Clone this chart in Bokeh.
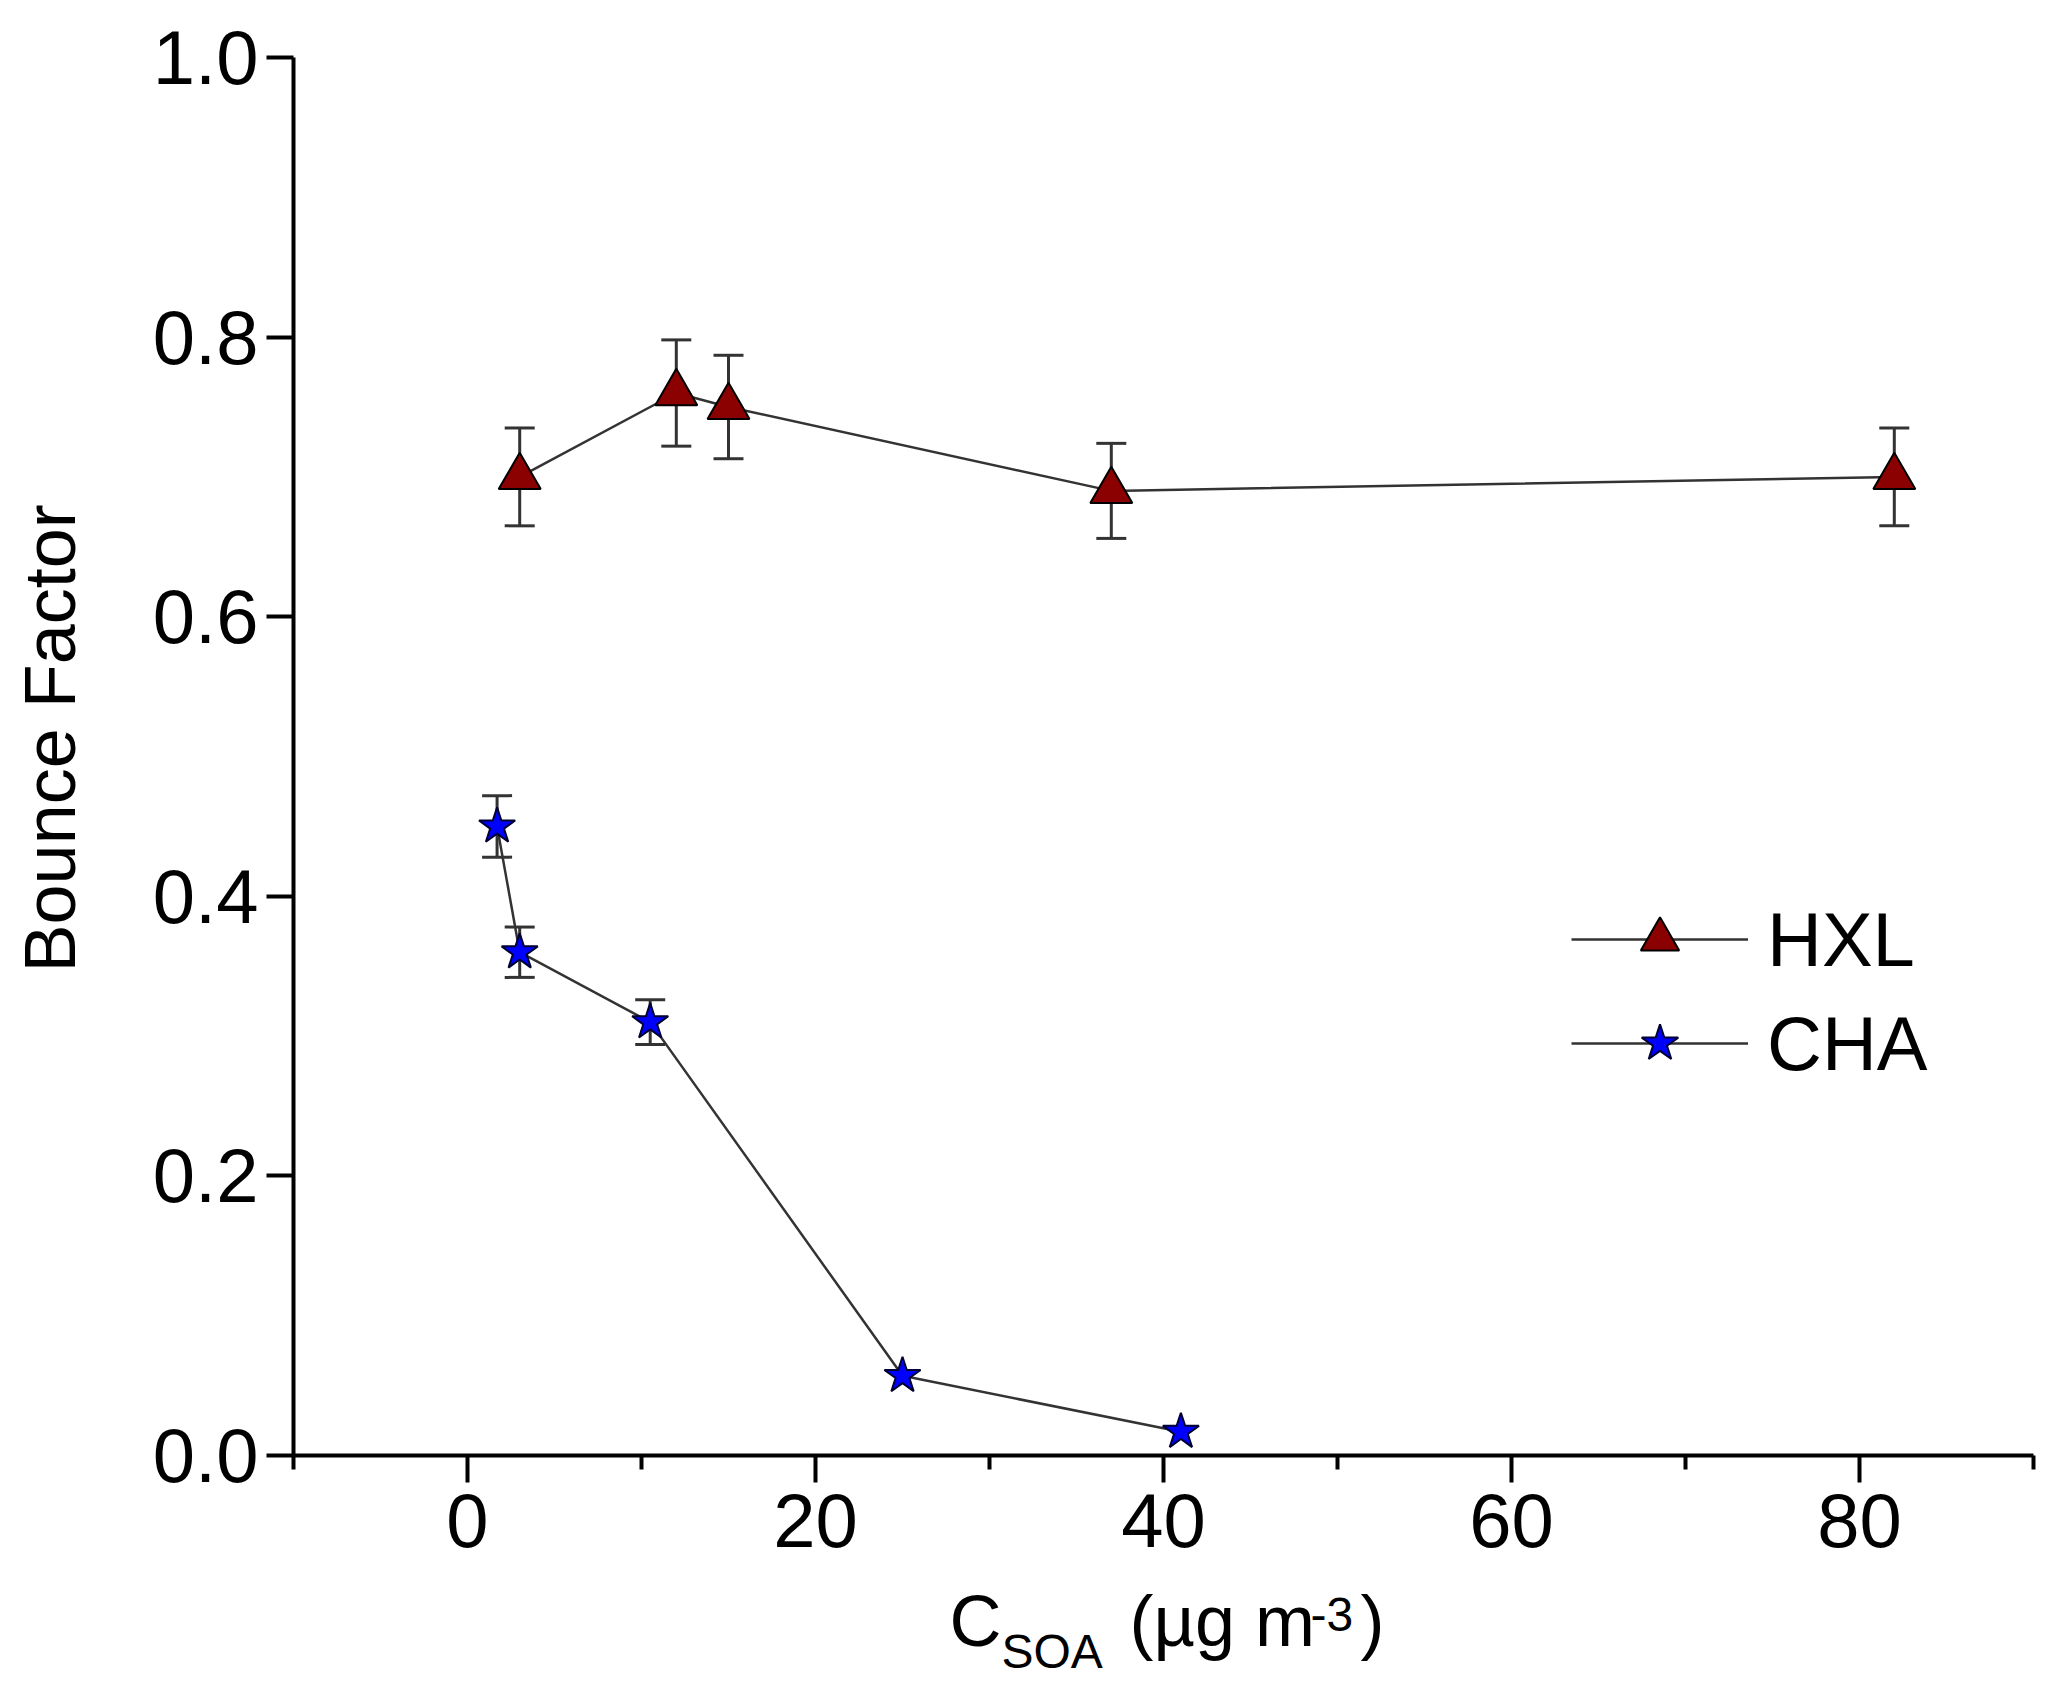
from math import pi

from bokeh.plotting import figure
from bokeh.layouts import column, row
from bokeh.models import (ColumnDataSource, Whisker, TeeHead, FixedTicker,
                          PrintfTickFormatter, Range1d)
from bokeh.core.properties import value
from bokeh.embed import file_html
from bokeh.resources import INLINE

# -----------------------------
# Data
# -----------------------------
hxl_x = [3, 12, 15, 37, 82]
hxl_y = [0.70, 0.76, 0.75, 0.69, 0.70]
hxl_err = [0.035, 0.038, 0.037, 0.034, 0.035]

cha_x = [1.7, 3, 10.5, 25, 41]
cha_y = [0.45, 0.36, 0.31, 0.057, 0.017]
cha_err = [0.022, 0.018, 0.016, 0.0, 0.0]

x_major = [0, 20, 40, 60, 80]
x_minor = [-10, 10, 30, 50, 70, 90]
y_major = [0.0, 0.2, 0.4, 0.6, 0.8, 1.0]

y_title = "Bounce Factor"
x_title_big = ["C", "(\u00b5g m", ")"]
x_title_small = ["SOA", "-3"]

FONT = "Liberation Sans"
LINE = "#333333"

FRAME_W, FRAME_H = 1740, 1398
BORDER_L, BORDER_R, BORDER_T, BORDER_B = 193, 15, 57, 124
LEFT_W = 100                                  # strip holding the y title
MAIN_H = BORDER_T + FRAME_H + BORDER_B
BOTTOM_H = 105                                # strip holding the x title

p = figure(
    frame_width=FRAME_W, frame_height=FRAME_H,
    x_range=Range1d(-10, 90), y_range=Range1d(0, 1.0),
    output_backend="svg", toolbar_location=None,
    min_border_left=BORDER_L, min_border_right=BORDER_R,
    min_border_top=BORDER_T, min_border_bottom=BORDER_B,
)
p.xgrid.visible = False
p.ygrid.visible = False
p.outline_line_color = None

# -----------------------------
# Axes
# -----------------------------
for ax in (p.xaxis[0], p.yaxis[0]):
    ax.axis_line_width = 4
    ax.axis_line_color = "black"
    ax.major_tick_line_width = 4
    ax.minor_tick_line_width = 4
    ax.major_tick_in = 0
    ax.major_tick_out = 27
    ax.minor_tick_in = 0
    ax.minor_tick_out = 14
    ax.major_label_text_font = FONT
    ax.major_label_text_font_size = "76px"
    ax.major_label_text_color = "black"

p.xaxis[0].ticker = FixedTicker(ticks=x_major, minor_ticks=x_minor)
p.xaxis[0].major_label_standoff = 11
p.yaxis[0].ticker = FixedTicker(ticks=y_major, minor_ticks=[])
p.yaxis[0].formatter = PrintfTickFormatter(format="%.1f")
p.yaxis[0].major_label_standoff = 8


# -----------------------------
# Error bars
# -----------------------------
def add_errors(xs, ys, errs):
    keep = [i for i, e in enumerate(errs) if e > 0]
    src = ColumnDataSource(dict(
        base=[xs[i] for i in keep],
        upper=[ys[i] + errs[i] for i in keep],
        lower=[ys[i] - errs[i] for i in keep],
    ))
    p.add_layout(Whisker(
        source=src, base="base", upper="upper", lower="lower",
        dimension="height", line_color=LINE, line_width=3,
        upper_head=TeeHead(size=30, line_color=LINE, line_width=3),
        lower_head=TeeHead(size=30, line_color=LINE, line_width=3),
    ))


add_errors(hxl_x, hxl_y, hxl_err)
add_errors(cha_x, cha_y, cha_err)

# -----------------------------
# Series
# -----------------------------
p.line(hxl_x, hxl_y, line_color=LINE, line_width=2.5, legend_label="HXL")
p.scatter(hxl_x, hxl_y, marker="triangle", size=42, fill_color="#8b0000",
          line_color="black", line_width=2, legend_label="HXL")

p.line(cha_x, cha_y, line_color=LINE, line_width=2.5, legend_label="CHA")
p.scatter(cha_x, cha_y, marker="star", size=38, fill_color="#0000ff",
          line_color="#000033", line_width=2, legend_label="CHA")

# -----------------------------
# Legend
# -----------------------------
lg = p.legend[0]
lg.location = (1278, 364)
lg.padding = 0
lg.margin = 0
lg.spacing = 8
lg.glyph_width = 177
lg.glyph_height = 96
lg.label_standoff = 19
lg.label_text_font = FONT
lg.label_text_font_size = "76px"
lg.label_text_color = "black"
lg.border_line_color = None
lg.background_fill_alpha = 0


# -----------------------------
# Title strips (pixel coordinates, y counted from the top)
# -----------------------------
def strip(w, h):
    s = figure(width=w, height=h, x_range=Range1d(0, w), y_range=Range1d(h, 0),
               x_axis_type=None, y_axis_type=None, min_border=0,
               output_backend="svg", toolbar_location=None)
    s.grid.visible = False
    s.outline_line_color = None
    return s


left = strip(LEFT_W, MAIN_H)
left.text(x=[49], y=[769], text=[y_title], angle=pi / 2,
          text_align="center", text_baseline="middle",
          text_font=value(FONT), text_font_size="72px", text_color="black")

bottom = strip(LEFT_W + BORDER_L + FRAME_W + BORDER_R, BOTTOM_H)
bottom.text(x=[949, 1129, 1360], y=[41, 41, 41], text=x_title_big,
            text_align="left", text_baseline="middle",
            text_font=value(FONT), text_font_size="72px", text_color="black")
bottom.text(x=[1001, 1310], y=[72, 35], text=x_title_small,
            text_align="left", text_baseline="middle",
            text_font=value(FONT), text_font_size="48px", text_color="black")

layout = column(row(left, p, spacing=0), bottom, spacing=0)

open("out.html", "w").write(file_html(layout, INLINE))
